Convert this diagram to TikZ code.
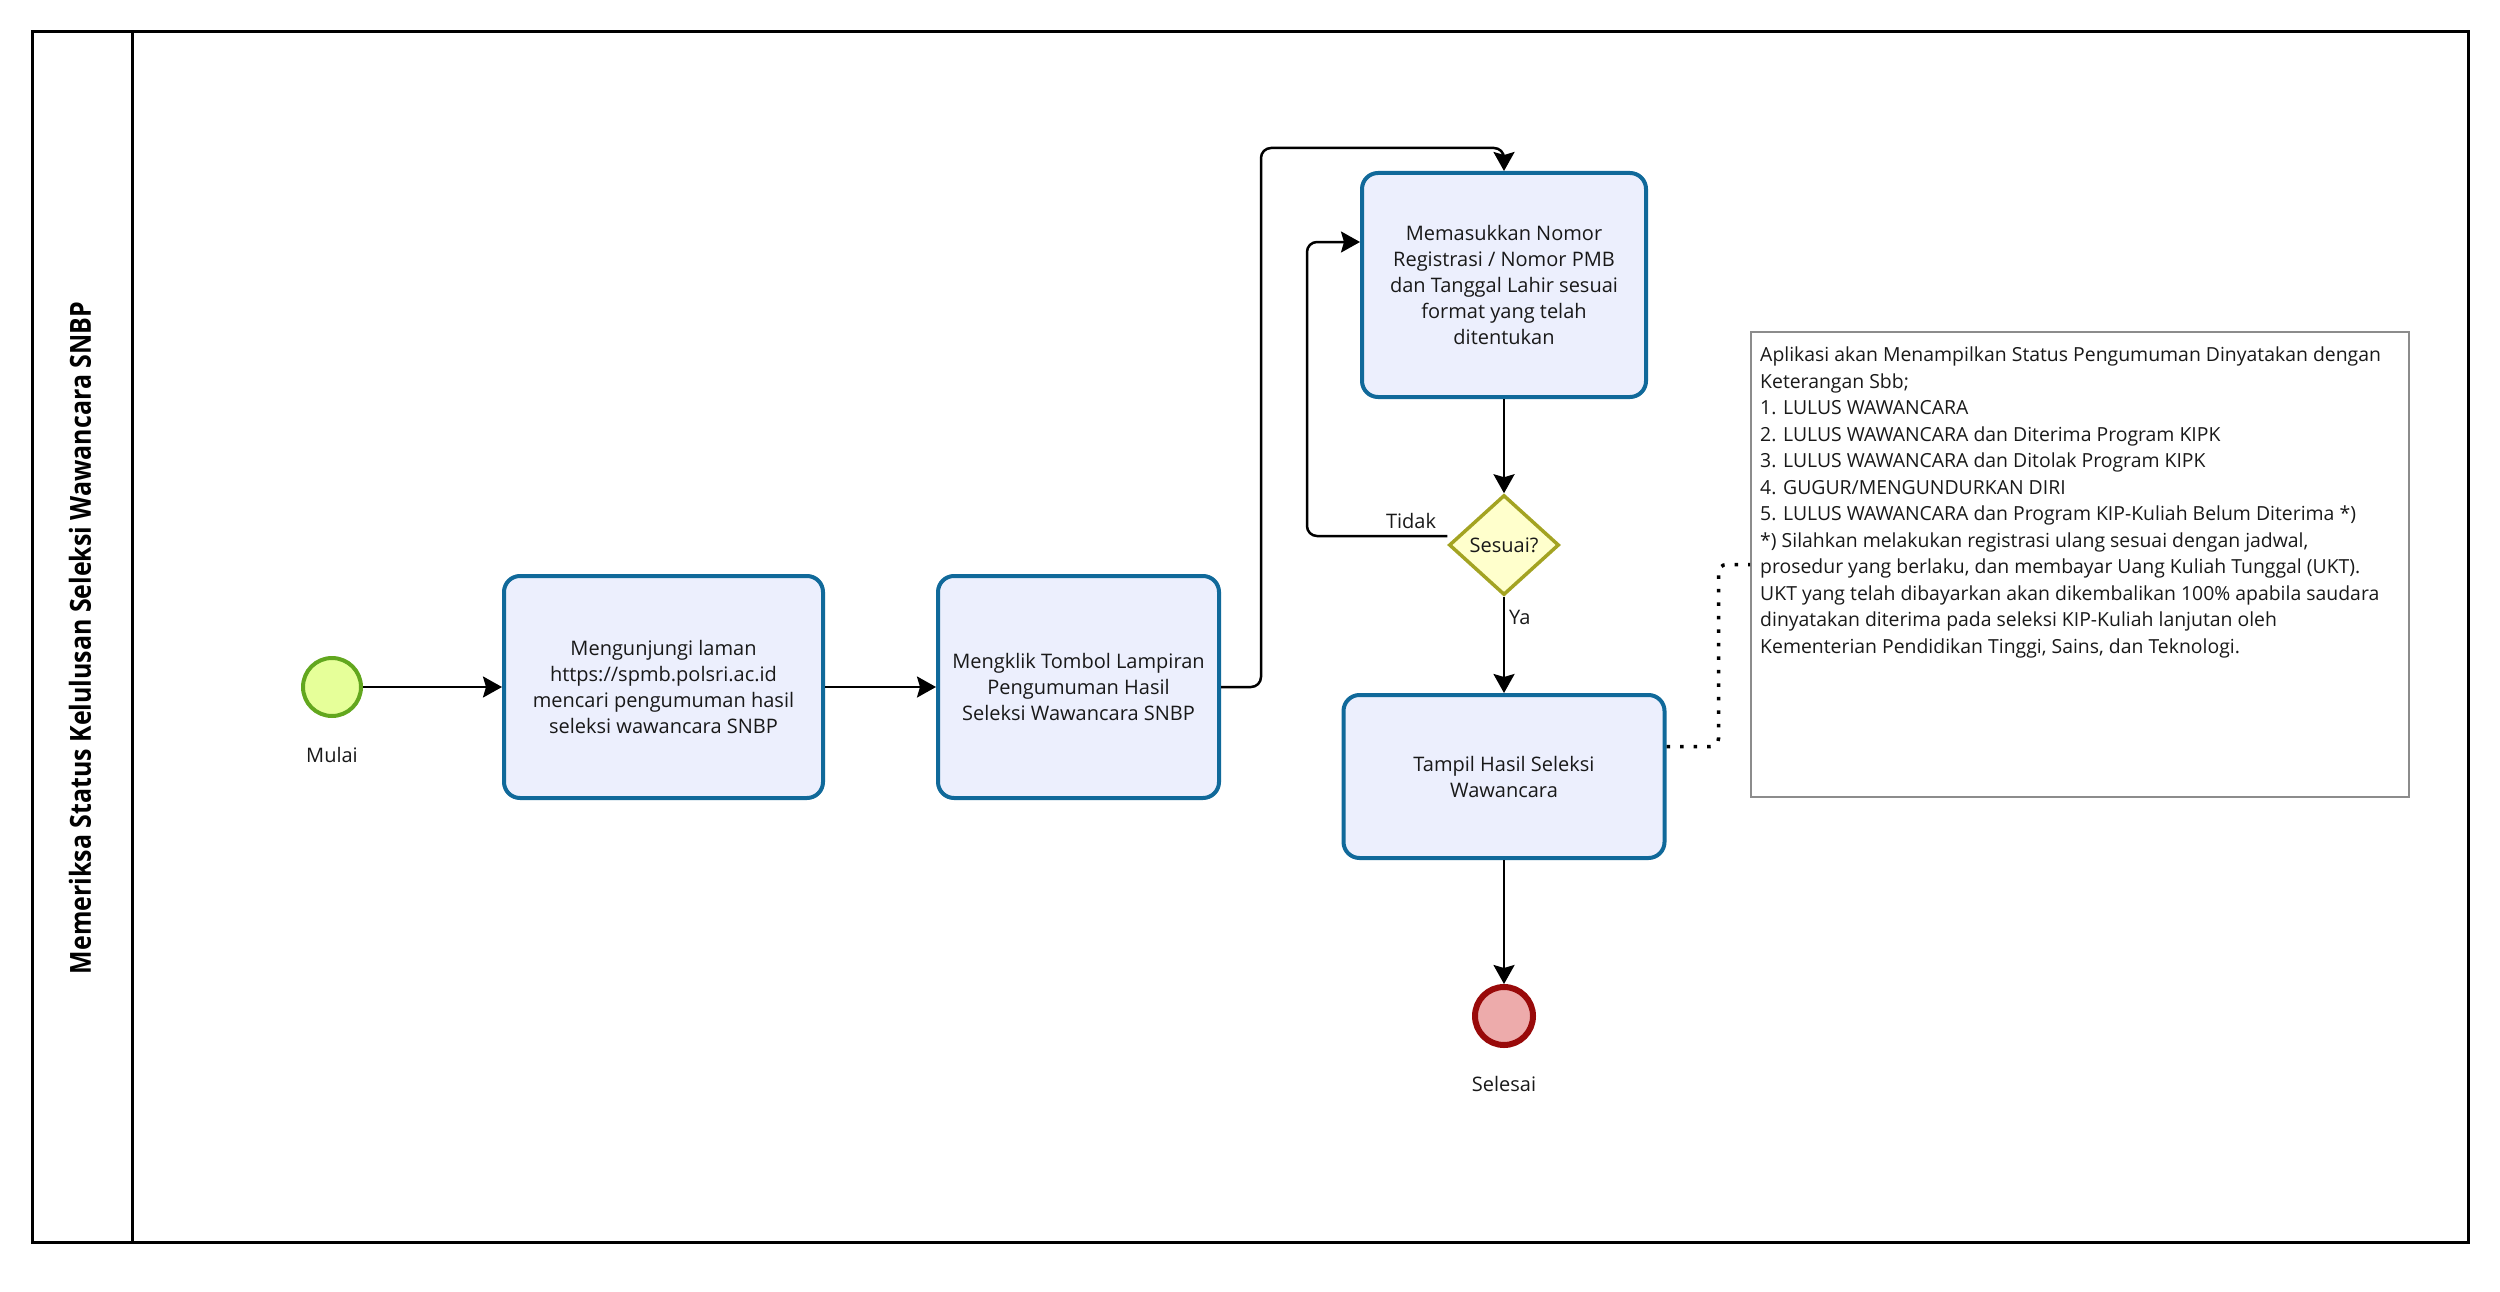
\documentclass[tikz,border=0pt]{standalone}
\usepackage{fontspec}
\setmainfont{Open Sans}
\newfontfamily\titlefont{Open Sans}[FakeStretch=0.86]
\usetikzlibrary{arrows.meta,shapes.geometric,calc}
\definecolor{taskblue}{HTML}{10699A}
\definecolor{taskfill}{HTML}{ECEFFD}
\definecolor{decdraw}{HTML}{A3A322}
\definecolor{decfill}{HTML}{FFFFCC}
\definecolor{startdraw}{HTML}{62A71E}
\definecolor{startfill}{HTML}{E6FF99}
\definecolor{enddraw}{HTML}{990A0A}
\definecolor{endfill}{HTML}{EDABAB}
\definecolor{anngray}{HTML}{8C8C8C}
\begin{document}
\begin{tikzpicture}[x=1pt,y=-1pt,
  txt/.style={font=\fontsize{20}{26}\selectfont, inner sep=0pt, text=black!90},
  task/.style={txt, draw=taskblue, fill=taskfill, line width=4pt, rounded corners=16pt, align=center},
  event/.style={circle, minimum size=58pt, inner sep=0pt},
  arr/.style={draw=black, line width=2.5pt, rounded corners=10pt, -{Stealth[length=19pt,width=21pt,inset=3pt]}},
  assoc/.style={draw=black, line width=3.5pt, dash pattern=on 3.5pt off 10pt, rounded corners=8pt}
]
\useasboundingbox (0,0) rectangle (2500,1292);
% pool and lane
\draw[line width=3pt] (32,32) rectangle (2468,1242);
\draw[line width=3pt] (132,32) -- (132,1242);
\node[rotate=90, font=\titlefont\bfseries\fontsize{29}{32}\selectfont, inner sep=0pt] (title) at (80,638) {Memeriksa Status Kelulusan Seleksi Wawancara SNBP};

% events
\node[event, draw=startdraw, fill=startfill, line width=4pt] (start) at (332,687) {};
\node[txt] (startlbl) at (332,755) {Mulai};
\node[event, draw=enddraw, fill=endfill, line width=6pt] (end) at (1504,1016) {};
\node[txt] (endlbl) at (1504,1084) {Selesai};

% tasks
\node[task, minimum width=319pt, minimum height=222pt] (t1) at (663.5,687) {Mengunjungi laman\\https://spmb.polsri.ac.id\\mencari pengumuman hasil\\seleksi wawancara SNBP};
\node[task, minimum width=281pt, minimum height=222pt] (t2) at (1078.5,687) {Mengklik Tombol Lampiran\\Pengumuman Hasil\\Seleksi Wawancara SNBP};
\node[task, minimum width=284pt, minimum height=224pt] (t3) at (1504,285) {Memasukkan Nomor\\Registrasi / Nomor PMB\\dan Tanggal Lahir sesuai\\format yang telah\\ditentukan};
\node[task, minimum width=321pt, minimum height=163pt] (t4) at (1504,776.5) {Tampil Hasil Seleksi\\Wawancara};

% decision
\node[diamond, draw=decdraw, fill=decfill, line width=3.5pt, minimum width=110pt, minimum height=100pt, inner sep=0pt] (dec) at (1504,545) {};
\node[txt] (dectxt) at (dec.center) {Sesuai?};

% annotation
\node[draw=anngray, line width=2pt, minimum width=658pt, minimum height=465pt, inner sep=0pt] (ann) at (2080,564.5) {};
\node[anchor=north west, align=left, inner sep=0pt, text=black!90, font=\fontsize{19.4}{26.5}\selectfont] (anntxt) at (1760,347) {Aplikasi akan Menampilkan Status Pengumuman Dinyatakan dengan\\
Keterangan Sbb;\\
1. LULUS WAWANCARA\\
2. LULUS WAWANCARA dan Diterima Program KIPK\\
3. LULUS WAWANCARA dan Ditolak Program KIPK\\
4. GUGUR/MENGUNDURKAN DIRI\\
5. LULUS WAWANCARA dan Program KIP-Kuliah Belum Diterima *)\\
*) Silahkan melakukan registrasi ulang sesuai dengan jadwal,\\
prosedur yang berlaku, dan membayar Uang Kuliah Tunggal (UKT).\\
UKT yang telah dibayarkan akan dikembalikan 100\% apabila saudara\\
dinyatakan diterima pada seleksi KIP-Kuliah lanjutan oleh\\
Kementerian Pendidikan Tinggi, Sains, dan Teknologi.};

% connector bend points
\coordinate (c1) at (1261,148);
\coordinate (c2) at (1307,242);

% connectors
\draw[arr] (start) -- (t1);
\draw[arr] (t1) -- (t2);
\draw[arr] (t2.east) -| (c1) -| (t3.north);
\draw[arr] (t3) -- (dec);
\draw[arr] ([yshift=9pt]dec.west) -| (c2) -- (c2 -| t3.west);
\draw[arr] (dec) -- (t4);
\draw[arr] (t4) -- (end);
\draw[assoc] ([yshift=30pt]t4.east) -- ++(52,0) |- (ann.west);

% labels
\node[txt] (tidak) at (1411,521) {Tidak};
\node[txt, anchor=west] (ya) at (1509,617) {Ya};
\end{tikzpicture}
\end{document}
